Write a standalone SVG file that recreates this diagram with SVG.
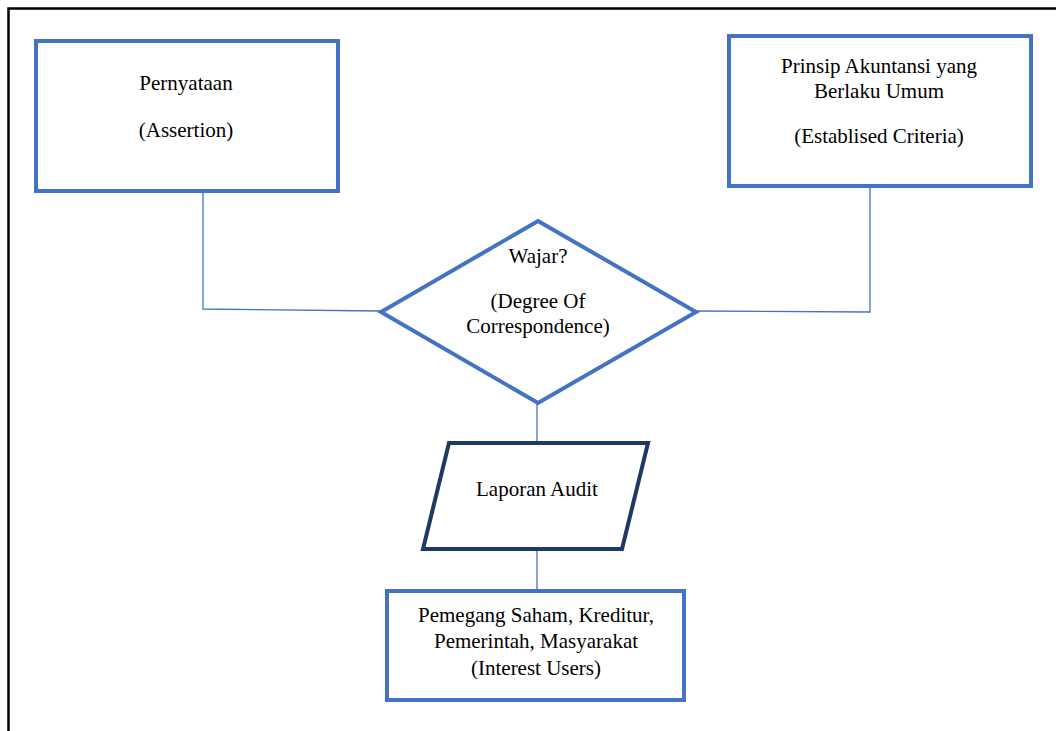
<svg xmlns="http://www.w3.org/2000/svg" width="1056" height="731" viewBox="0 0 1056 731">
<style>
.box{fill:#fff;stroke:#4472C4;stroke-width:4}
.para{fill:#fff;stroke:#1F3864;stroke-width:4;stroke-linejoin:miter}
.conn{fill:none;stroke:#4472C4;stroke-width:1.3}
.t{font-family:'Liberation Serif','Times New Roman','DejaVu Serif',serif;font-size:21px;fill:#000;text-anchor:middle}
</style>
<rect width="1056" height="731" fill="#fff"/>
<path d="M8.5,731 V8.5 H1056" fill="none" stroke="#000" stroke-width="2.5"/>
<g id="connectors">
<path class="conn" d="M203,192 V309 L380,311"/>
<path class="conn" d="M870,187 V312 L697,311"/>
<path class="conn" d="M537,404 V442"/>
<path class="conn" d="M537,550 V589"/>
</g>
<g id="assertion">
<rect class="box" x="36" y="41" width="302" height="150"/>
<text class="t" x="186" y="90" font-family="Liberation Serif, serif">Pernyataan</text>
<text class="t" x="186" y="137" font-family="Liberation Serif, serif">(Assertion)</text>
</g>
<g id="criteria">
<rect class="box" x="729" y="36" width="302" height="150"/>
<text class="t" x="879" y="73" font-family="Liberation Serif, serif">Prinsip Akuntansi yang</text>
<text class="t" x="879" y="98" font-family="Liberation Serif, serif">Berlaku Umum</text>
<text class="t" x="879" y="143" font-family="Liberation Serif, serif">(Establised Criteria)</text>
</g>
<g id="wajar">
<polygon class="box" points="538,221 696,312 538,403 381,312"/>
<text class="t" x="538" y="263" font-family="Liberation Serif, serif">Wajar?</text>
<text class="t" x="538" y="308" font-family="Liberation Serif, serif">(Degree Of</text>
<text class="t" x="538" y="333" font-family="Liberation Serif, serif">Correspondence)</text>
</g>
<g id="laporan">
<polygon class="para" points="449,443 648,443 622,549 423,549"/>
<text class="t" x="537" y="496" font-family="Liberation Serif, serif">Laporan Audit</text>
</g>
<g id="users">
<rect class="box" x="387" y="591" width="297" height="109"/>
<text class="t" x="536" y="622" font-family="Liberation Serif, serif">Pemegang Saham, Kreditur,</text>
<text class="t" x="536" y="648" font-family="Liberation Serif, serif">Pemerintah, Masyarakat</text>
<text class="t" x="536" y="675" font-family="Liberation Serif, serif">(Interest Users)</text>
</g>
</svg>
